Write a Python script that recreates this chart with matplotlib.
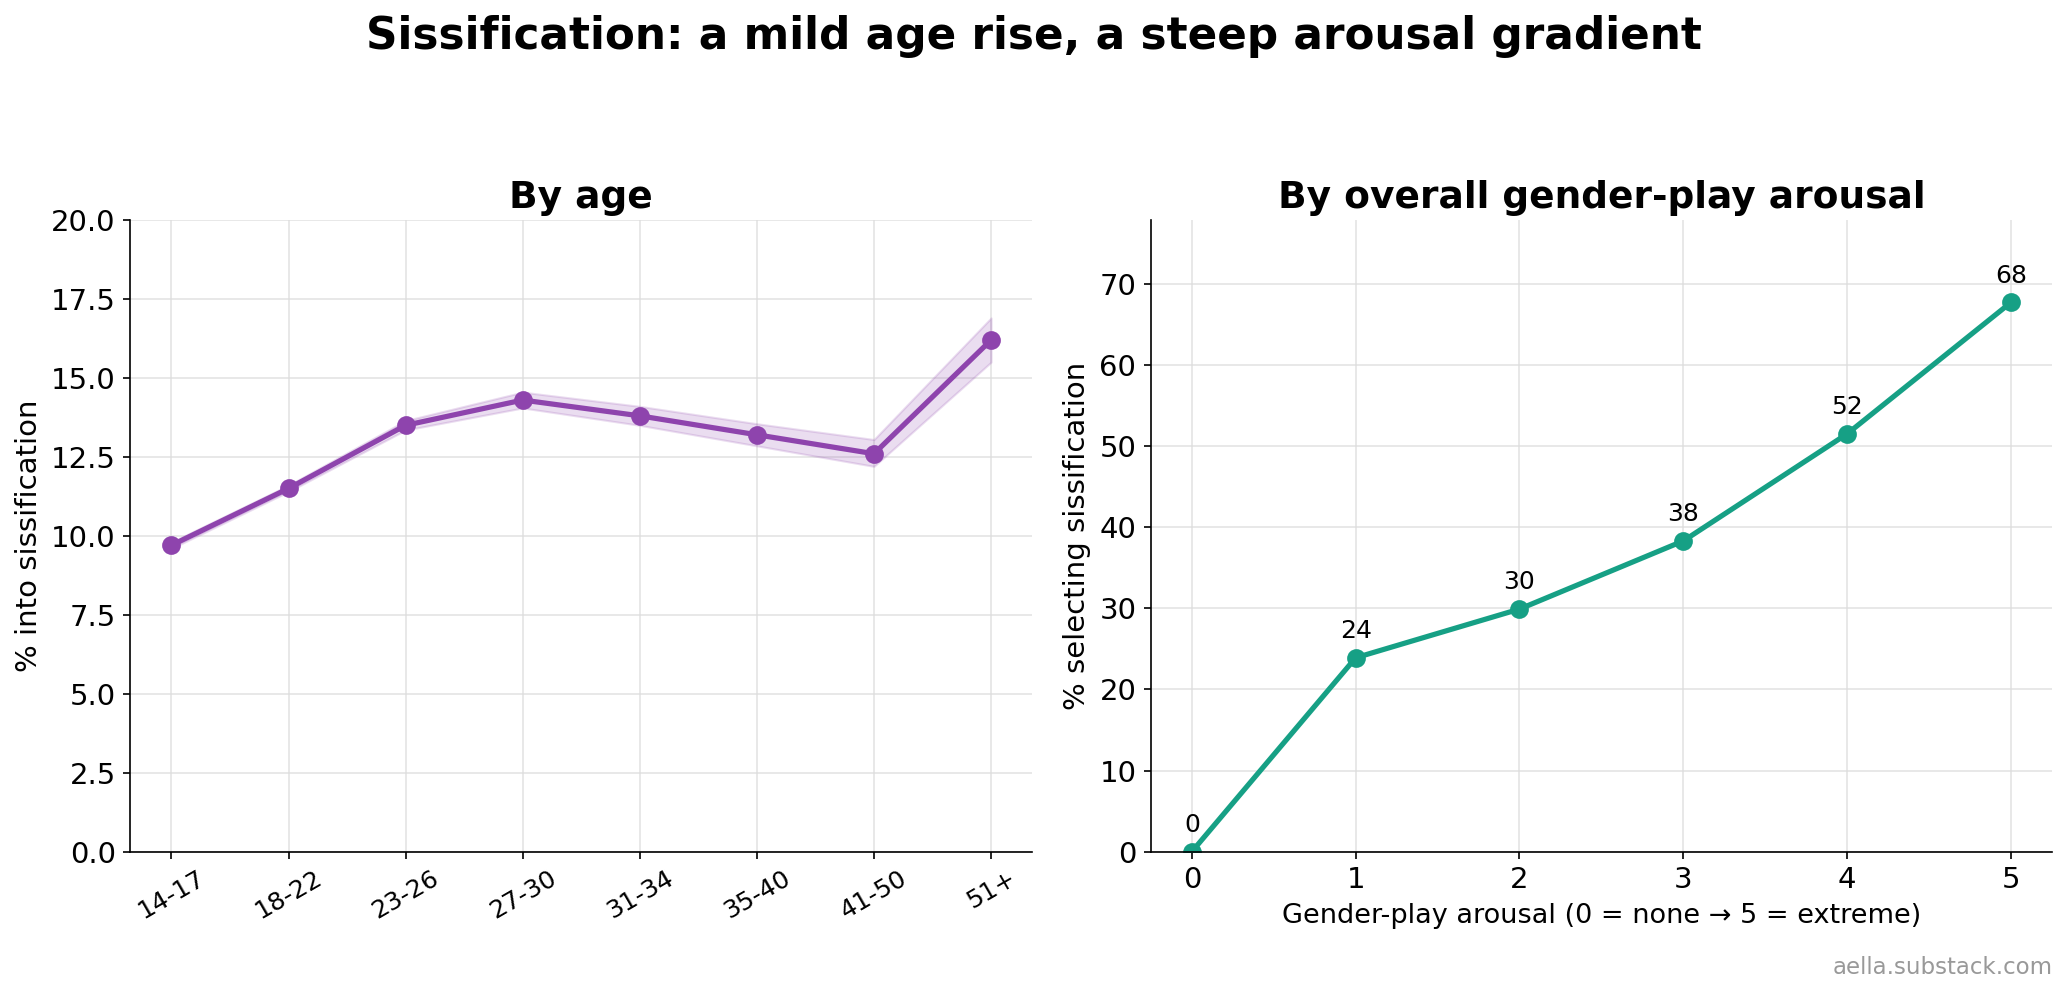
import matplotlib
matplotlib.use("Agg")
import matplotlib.pyplot as plt
import numpy as np

age_groups = ["14-17", "18-22", "23-26", "27-30", "31-34", "35-40", "41-50", "51+"]
age_pct = [9.7, 11.5, 13.5, 14.3, 13.8, 13.2, 12.6, 16.2]
age_lo = [9.6, 11.4, 13.35, 14.05, 13.5, 12.85, 12.2, 15.5]
age_hi = [9.8, 11.6, 13.65, 14.55, 14.1, 13.55, 13.05, 16.9]

arousal_levels = [0, 1, 2, 3, 4, 5]
arousal_pct = [0.0, 23.9, 29.9, 38.3, 51.5, 67.7]

purple = "#8E44AD"
teal = "#16A085"

dpi = 150
fig = plt.figure(figsize=(2067 / dpi, 997 / dpi), dpi=dpi)
ax1 = fig.add_axes([0.0631, 0.1458, 0.4362, 0.6335])
ax2 = fig.add_axes([0.5568, 0.1458, 0.4359, 0.6335])

x = np.arange(len(age_groups))
ax1.fill_between(x, age_lo, age_hi, color=purple, alpha=0.18, linewidth=1)
ax1.plot(x, age_pct, color=purple, lw=2.5, marker="o", markersize=8)
ax1.set_xticks(x)
ax1.set_xticklabels(age_groups, rotation=30, fontsize=12)
ax1.set_ylim(0, 20)
ax1.set_yticks(np.arange(0, 20.1, 2.5))
ax1.set_ylabel("% into sissification", fontsize=14)
ax1.set_title("By age", fontsize=18, fontweight="bold")

ax2.plot(arousal_levels, arousal_pct, color=teal, lw=2.5, marker="o", markersize=8)
for xv, yv in zip(arousal_levels, arousal_pct):
    ax2.annotate(f"{yv:.0f}", (xv, yv), xytext=(0, 7), textcoords="offset points",
                 ha="center", va="bottom", fontsize=12)
ax2.set_ylim(0, max(arousal_pct) * 1.15)
ax2.set_xticks(arousal_levels)
ax2.set_xlabel("Gender-play arousal (0 = none \u2192 5 = extreme)", fontsize=13)
ax2.set_ylabel("% selecting sissification", fontsize=14)
ax2.set_title("By overall gender-play arousal", fontsize=18, fontweight="bold")

for ax in (ax1, ax2):
    ax.grid(True, color="#dddddd", alpha=0.8, linewidth=0.8)
    ax.set_axisbelow(True)
    ax.spines["top"].set_visible(False)
    ax.spines["right"].set_visible(False)
    ax.tick_params(axis="y", labelsize=14)
ax2.tick_params(axis="x", labelsize=14)

fig.suptitle("Sissification: a mild age rise, a steep arousal gradient",
             fontsize=21, fontweight="bold", x=0.5, y=0.985)
fig.text(0.993, 0.018, "aella.substack.com", ha="right", va="bottom",
         fontsize=11, color="#999999")

fig.savefig("out.png", dpi=dpi)
